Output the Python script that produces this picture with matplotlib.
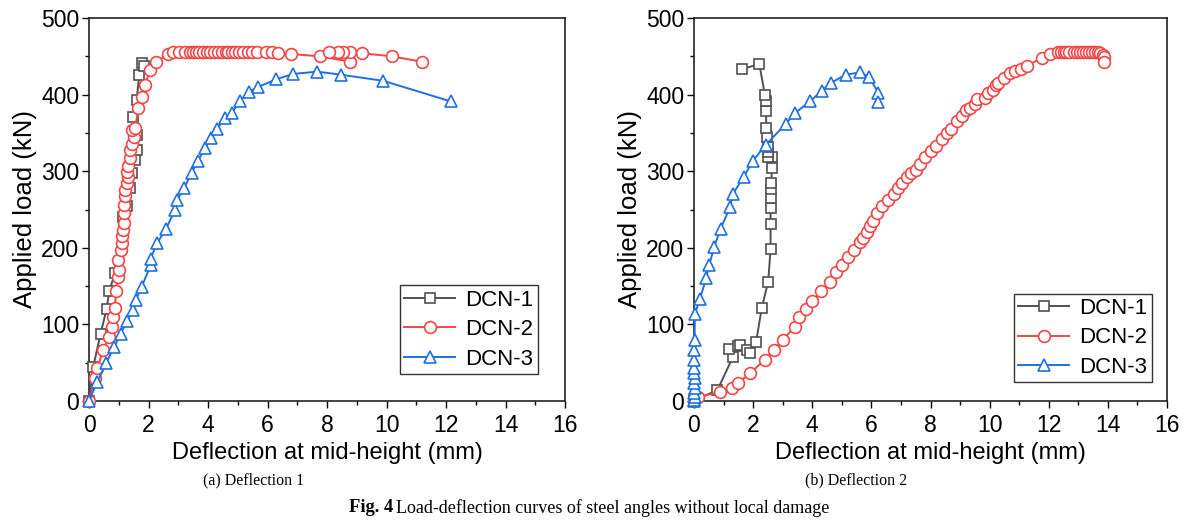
import matplotlib
matplotlib.use("Agg")
import matplotlib.pyplot as plt
from matplotlib.ticker import MultipleLocator

# ---------------- data: panel (a) Deflection 1 ----------------
a1_x = [0, 0.145, 0.39, 0.59, 0.68, 0.87, 1.15, 1.27, 1.38, 1.43, 1.55, 1.6, 1.6, 1.49, 1.6, 1.69, 1.77, 1.85]
a1_y = [0, 45, 88, 120, 143, 167, 240, 254, 278, 298, 315, 328, 347, 371, 393, 426, 441, 437]

a2_x = [0, 0.2, 0.28, 0.48, 0.68, 0.76, 0.82, 0.87, 0.91, 0.99, 1.02, 0.99, 1.06, 1.1, 1.1, 1.13, 1.16,
        1.18, 1.18, 1.21, 1.21, 1.27, 1.30, 1.27, 1.3, 1.38, 1.38, 1.43, 1.50, 1.43, 1.55, 1.66, 1.77,
        1.88, 2.05, 2.25, 2.67, 2.84, 3.04, 3.23, 3.39, 3.51, 3.60, 3.71, 3.84, 3.96, 4.07, 4.20, 4.35,
        4.46, 4.61, 4.68, 4.80, 4.91, 5.05, 5.19, 5.36, 5.47, 5.66, 5.95, 6.14, 6.36, 6.78, 7.76, 8.77,
        8.77, 8.55, 8.38, 8.08, 9.17, 10.17, 11.18]
a2_y = [0, 30, 43, 67, 84, 97, 110, 121, 143, 162, 171, 184, 197, 206, 215, 223, 232,
        245, 256, 267, 276, 284, 293, 299, 307, 317, 328, 336, 344, 354, 356, 382, 397,
        412, 432, 442, 453, 455, 455, 456, 456, 456, 456, 456, 456, 456, 456, 456, 456,
        456, 456, 456, 456, 456, 456, 456, 455, 455, 455, 455, 455, 454, 453, 450, 443,
        455, 455, 455, 456, 454, 450, 443]

a3_x = [0, 0.28, 0.57, 0.84, 1.06, 1.29, 1.47, 1.58, 1.77, 2.07, 2.07, 2.29, 2.59, 2.89, 2.95, 3.2,
        3.45, 3.65, 3.9, 4.1, 4.3, 4.57, 4.80, 5.08, 5.39, 5.69, 6.29, 6.87, 7.67, 8.47, 9.89, 12.17]
a3_y = [0, 25, 49, 70, 88, 104, 119, 132, 149, 177, 186, 206, 225, 249, 262, 278,
        298, 313, 330, 343, 355, 369, 376, 392, 404, 410, 420, 427, 430, 426, 418, 391]

# ---------------- data: panel (b) Deflection 2 ----------------
b1_x = [0, 0.79, 1.31, 1.2, 1.5, 1.55, 1.78, 1.89, 2.1, 2.29, 2.51, 2.59, 2.59, 2.59, 2.59, 2.62, 2.62,
        2.63, 2.63, 2.52, 2.51, 2.51, 2.48, 2.44, 2.44, 2.44, 2.4, 2.21, 1.61]
b1_y = [1, 14, 57, 68, 72, 73, 67, 63, 77, 121, 156, 198, 231, 252, 265, 277, 285,
        304, 319, 318, 325, 331, 344, 356, 379, 391, 399, 440, 433]

b2_x = [0, 0.15, 0.88, 1.27, 1.5, 1.89, 2.4, 2.71, 3.0, 3.42, 3.56, 3.8, 4.0, 4.3, 4.6, 4.8, 5.0, 5.2,
        5.4, 5.6, 5.7, 5.85, 5.95, 6.05, 6.2, 6.35, 6.55, 6.75, 6.9, 7.05, 7.2, 7.35, 7.5, 7.65, 7.8,
        8.0, 8.2, 8.4, 8.55, 8.7, 8.9, 9.05, 9.2, 9.34, 9.5, 9.56, 9.85, 9.93, 10.13, 10.23, 10.29,
        10.5, 10.7, 10.86, 11.05, 11.25, 11.76, 12.05, 12.32, 12.42, 12.52, 12.6, 12.7, 12.85, 12.95,
        13.05, 13.15, 13.25, 13.35, 13.45, 13.55, 13.65, 13.74, 13.85, 13.87, 13.87]
b2_y = [0, 5, 12, 17, 24, 36, 54, 67, 80, 97, 110, 120, 130, 143, 155, 168, 178, 188,
        197, 207, 213, 220, 228, 235, 245, 255, 262, 270, 278, 285, 292, 298, 302, 310, 318,
        326, 333, 342, 350, 355, 365, 372, 380, 383, 388, 394, 396, 402, 406, 412, 415,
        422, 428, 431, 433, 437, 448, 453, 456, 456, 456, 456, 456, 456, 455,
        455, 455, 455, 455, 455, 455, 455, 454, 452, 449, 443]

b3_x = [0, 0.01, 0.02, 0.01, 0.02, 0.01, 0.02, 0.01, 0.0, 0.01, 0.01, 0.02, 0.03, 0.2, 0.41, 0.52,
        0.68, 0.9, 1.22, 1.31, 1.69, 1.98, 2.42, 3.11, 3.42, 3.92, 4.32, 4.62, 5.13, 5.62, 5.92,
        6.24, 6.24]
b3_y = [0, 1, 5, 10, 17, 23, 30, 36, 43, 54, 67, 80, 114, 133, 160, 178,
        201, 225, 253, 270, 293, 313, 334, 362, 376, 391, 405, 415, 426, 429, 423,
        402, 390]

labels = ["DCN-1", "DCN-2", "DCN-3"]
x_ticks = [0, 2, 4, 6, 8, 10, 12, 14, 16]
y_ticks = [0, 100, 200, 300, 400, 500]
captions = ["(a) Deflection 1", "(b) Deflection 2"]
fig_title_bold = "Fig. 4"
fig_title_rest = "Load-deflection curves of steel angles without local damage"

colors = ["#505050", "#f24646", "#1f6fe3"]
markers = ["s", "o", "^"]
msizes = [6.5, 8.5, 8.5]

plt.rcParams["font.family"] = ["Liberation Sans", "DejaVu Sans"]
serif = ["Liberation Serif", "DejaVu Serif"]

fig = plt.figure(figsize=(11.93, 5.22), dpi=100)
ax_a = fig.add_axes([89 / 1193, 121 / 522, 476 / 1193, 383 / 522])
ax_b = fig.add_axes([694 / 1193, 121 / 522, 473 / 1193, 383 / 522])

panels = [
    (ax_a, [(a1_x, a1_y), (a2_x, a2_y), (a3_x, a3_y)], (0.9426, 0.0705), 254 / 1193),
    (ax_b, [(b1_x, b1_y), (b2_x, b2_y), (b3_x, b3_y)], (0.9677, 0.0488), 856 / 1193),
]

for (ax, series, anchor, capx), cap in zip(panels, captions):
    for (xs, ys), lab, c, m, ms in zip(series, labels, colors, markers, msizes):
        ax.plot(xs, ys, color=c, lw=1.4, marker=m, ms=ms, mfc="white", mec=c, mew=1.2,
                label=lab, clip_on=False, zorder=3)
    ax.set_xlim(0, 16)
    ax.set_ylim(0, 500)
    ax.set_xticks(x_ticks)
    ax.set_yticks(y_ticks)
    ax.xaxis.set_minor_locator(MultipleLocator(1))
    ax.yaxis.set_minor_locator(MultipleLocator(50))
    ax.tick_params(which="major", direction="out", length=5, width=1.0, labelsize=16.5, pad=2)
    ax.tick_params(axis="x", which="major", pad=4)
    ax.tick_params(which="minor", direction="out", length=3, width=1.0)
    for sp in ax.spines.values():
        sp.set_linewidth(1.2)
        sp.set_color("#222222")
    ax.set_xlabel("Deflection at mid-height (mm)", fontsize=17, labelpad=4)
    ax.set_ylabel("Applied load (kN)", fontsize=18.5, labelpad=3)
    leg = ax.legend(loc="lower right", bbox_to_anchor=anchor, fontsize=16, fancybox=False,
                    edgecolor="#333333", framealpha=1, handlelength=2.3, borderpad=0.2,
                    labelspacing=0.38, handletextpad=0.45, borderaxespad=0)
    leg.get_frame().set_linewidth(1.0)
    fig.text(capx, 1 - 480 / 522, cap, ha="center", va="center", fontsize=11.5, family=serif)

fig.text(349 / 1193, 1 - 508 / 522, fig_title_bold, ha="left", va="center", fontsize=13.3,
         fontweight="bold", family=serif)
fig.text(396 / 1193, 1 - 508 / 522, fig_title_rest, ha="left", va="center", fontsize=13.0,
         family=serif)

fig.savefig("out.png", dpi=100)
